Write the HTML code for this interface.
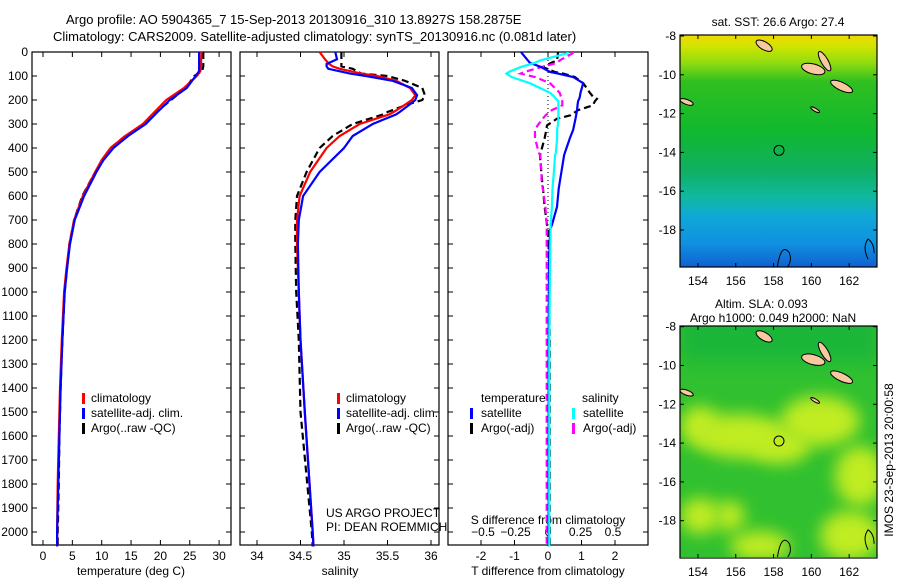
<!DOCTYPE html>
<html><head><meta charset="utf-8"><style>
body{margin:0;background:#fff;}
svg{display:block;font-family:"Liberation Sans",sans-serif;}
text{font-size:12px;fill:#000;}
</style></head><body>
<svg id="chart" width="900" height="580" viewBox="0 0 900 580">
<defs>
<linearGradient id="sstg" x1="0" y1="0" x2="0" y2="1">
<stop offset="0" stop-color="#f0d800"/><stop offset="0.05" stop-color="#d0e400"/><stop offset="0.12" stop-color="#90dc10"/>
<stop offset="0.2" stop-color="#30c020"/><stop offset="0.42" stop-color="#10b830"/><stop offset="0.58" stop-color="#10b060"/>
<stop offset="0.7" stop-color="#10b8a0"/><stop offset="0.78" stop-color="#10a8d8"/><stop offset="0.9" stop-color="#1090e0"/><stop offset="1" stop-color="#1060d0"/>
</linearGradient>
<filter id="blur" x="-100%" y="-100%" width="300%" height="300%"><feGaussianBlur stdDeviation="8"/></filter>
<clipPath id="m1c"><rect x="680" y="35" width="197" height="232"/></clipPath>
<clipPath id="m2c"><rect x="680" y="326" width="197" height="231"/></clipPath>
</defs>
<g>
<text x="66" y="24" style="font-size:13px">Argo profile: AO 5904365_7 15-Sep-2013 20130916_310 13.8927S 158.2875E</text>
<text x="53" y="41" style="font-size:13px">Climatology: CARS2009. Satellite-adjusted climatology: synTS_20130916.nc (0.081d later)</text>
</g>
<g id="p1"></g>
<g id="p2"></g>
<g id="p3"></g>
<g id="maps"></g>
<text transform="translate(893,460) rotate(-90)" text-anchor="middle">IMOS 23-Sep-2013 20:00:58</text>
</svg>
<script>
const NS='http://www.w3.org/2000/svg';
// ---- data ----
const depths=[0,60,80,100,150,200,250,300,350,400,450,500,600,700,800,900,1000,1200,1400,1600,1800,2000,2060];
const tempClim=[27.0,26.9,26.8,26.2,24,21,19,17,14,11.5,10,8.9,6.8,5.3,4.5,4.0,3.6,3.2,2.9,2.7,2.5,2.4,2.4];
const tempSat=[26.6,26.6,26.6,26.0,24.5,21.6,19.5,17.5,14.5,12,10.3,9.1,7.0,5.4,4.6,4.1,3.7,3.3,3.0,2.8,2.6,2.4,2.4];
const tempArgo=[27.3,27.3,27.1,25.8,24.3,21.8,19.3,17.2,14.0,11.5,10.1,8.9,6.7,5.3,4.5,4.1,3.7,3.3,3.0,2.8,2.7,2.5,2.5];
const salDepths=[0,30,50,60,70,90,100,120,150,180,200,220,250,260,300,350,400,500,600,700,800,1000,1200,1500,2000,2060];
const salClim=[34.72,34.78,34.83,34.87,34.95,35.2,35.38,35.6,35.76,35.82,35.78,35.7,35.57,35.52,35.18,34.95,34.8,34.61,34.49,34.46,34.46,34.48,34.5,34.55,34.64,34.65];
const salSat=[34.9,34.92,34.8,34.8,34.82,35.07,35.25,35.56,35.78,35.84,35.82,35.75,35.64,35.6,35.33,35.1,35.0,34.72,34.53,34.48,34.47,34.48,34.5,34.55,34.64,34.65];
const salArgo=[34.97,34.97,34.97,34.97,35.1,35.2,35.5,35.7,35.9,35.93,35.9,35.72,35.5,35.45,35.1,34.87,34.72,34.57,34.46,34.44,34.44,34.45,34.48,34.5,34.63,34.64];
const diffDepths=[0,5,35,45,63,83,90,104,130,170,187,195,205,222,242,264,278,306,325,360,421,430,500,533,570,645,720,740,900,1200,1600,2060];
const dTSat=[-0.8,-0.78,-0.6,-0.54,-0.2,0.06,0.3,0.75,1.05,0.97,0.95,0.93,0.9,0.88,0.87,0.84,0.82,0.78,0.75,0.65,0.5,0.48,0.4,0.36,0.32,0.27,0.12,0.06,0.03,0.02,0.02,0.02];
const dSSat=[0.15,0.15,-0.06,-0.1,-0.21,-0.3,-0.32,-0.28,-0.14,0.015,0.05,0.06,0.08,0.08,0.08,0.08,0.08,0.075,0.07,0.07,0.06,0.055,0.045,0.04,0.035,0.03,0.02,0.02,0.015,0.01,0.01,0.01];
const dTArgo=[0.3,0.3,0.27,0.1,-0.15,0.2,0.45,0.8,1.05,1.25,1.35,1.46,1.4,1.34,0.9,0.66,0.27,-0.03,-0.05,-0.1,-0.22,-0.24,-0.2,-0.18,-0.15,-0.1,-0.03,0.0,0.03,0.05,0.05,0.05];
const dSArgo=[0.19,0.19,0.09,0.07,-0.05,-0.18,-0.21,-0.1,0.015,0.09,0.1,0.1,0.11,0.11,0.03,-0.02,-0.04,-0.08,-0.1,-0.1,-0.07,-0.06,-0.05,-0.05,-0.04,-0.02,-0.01,-0.01,-0.01,-0.01,-0.01,-0.01];
const depthTicks=[0,100,200,300,400,500,600,700,800,900,1000,1100,1200,1300,1400,1500,1600,1700,1800,1900,2000];
const tempTicks=[0,5,10,15,20,25,30];
const salTicks=[34,34.5,35,35.5,36];
const tdTicks=[-2,-1,0,1,2];
const sdTicks=[-0.5,-0.25,0,0.25,0.5];
const lonTicks=[154,156,158,160,162];
const latTicks=[-8,-10,-12,-14,-16,-18];
const argoLon=158.2875, argoLat=-13.8927;
// ---- helpers ----
function mk(tag,attrs,parent){const e=document.createElementNS(NS,tag);for(const k in attrs)e.setAttribute(k,attrs[k]);parent.appendChild(e);return e;}
function txt(s,x,y,anchor,parent){const t=mk('text',{x:x,y:y,'text-anchor':anchor||'start'},parent);t.textContent=s;return t;}
const yD=d=>52+d*0.24;
const TOP=52,BOT=545;
function frame(g,x0,x1){mk('rect',{x:x0,y:TOP,width:x1-x0,height:BOT-TOP,fill:'none',stroke:'#000','stroke-width':1.2},g);}
function line(g,xs,ds,xf,color,dash,w,name){
  const p=mk('polyline',{points:xs.map((v,i)=>xf(v).toFixed(1)+','+yD(ds[i]).toFixed(1)).join(' '),fill:'none',stroke:color,'stroke-width':w||2.2},g);
  if(dash)p.setAttribute('stroke-dasharray',dash);
  
  
}
function xticks(g,ticks,xf,y,labels,fmt){ticks.forEach(t=>{const x=xf(t);mk('line',{x1:x,y1:BOT,x2:x,y2:BOT-5,stroke:'#000'},g);mk('line',{x1:x,y1:TOP,x2:x,y2:TOP+5,stroke:'#000'},g);if(labels)txt(fmt?fmt(t):String(t),x,y,'middle',g);});}
// ---- panel 1 ----
const p1=document.getElementById('p1');
const xT=v=>43+v*5.87;
frame(p1,32,231);
depthTicks.forEach(d=>{mk('line',{x1:32,y1:yD(d),x2:37,y2:yD(d),stroke:'#000'},p1);mk('line',{x1:226,y1:yD(d),x2:231,y2:yD(d),stroke:'#000'},p1);txt(String(d),28,yD(d)+4,'end',p1);});
xticks(p1,tempTicks,xT,560,true);
txt('temperature (deg C)',131,575,'middle',p1);
line(p1,tempArgo,depths,xT,'#000','7 4',2.2,'temp-argo-line');
line(p1,tempClim,depths,xT,'#f00',null,2.2,'temp-climatology-line');
line(p1,tempSat,depths,xT,'#00f',null,2.2,'temp-satellite-line');
function legend(g,x,y){[['#f00','climatology'],['#00f','satellite-adj. clim.'],['#000','Argo(..raw -QC)']].forEach((e,i)=>{mk('rect',{x:x,y:y+i*15-9,width:3,height:11,fill:e[0]},g);txt(e[1],x+9,y+i*15,'start',g);});}
legend(p1,82,402);
// ---- panel 2 ----
const p2=document.getElementById('p2');
const xS=v=>257+(v-34)*87;
frame(p2,240,439);
depthTicks.forEach(d=>{mk('line',{x1:240,y1:yD(d),x2:245,y2:yD(d),stroke:'#000'},p2);mk('line',{x1:434,y1:yD(d),x2:439,y2:yD(d),stroke:'#000'},p2);});
xticks(p2,salTicks,xS,560,true);
txt('salinity',340,575,'middle',p2);
line(p2,salArgo,salDepths,xS,'#000','7 4',2.2,'sal-argo-line');
line(p2,salClim,salDepths,xS,'#f00',null,2.2,'sal-climatology-line');
line(p2,salSat,salDepths,xS,'#00f',null,2.2,'sal-satellite-line');
legend(p2,337,402);
txt('US ARGO PROJECT',326,517,'start',p2);txt('PI: DEAN ROEMMICH',326,531,'start',p2);
// ---- panel 3 ----
const p3=document.getElementById('p3');
const xTD=v=>548+v*33.5, xSD=v=>548+v*130;
frame(p3,448,648);
depthTicks.forEach(d=>{mk('line',{x1:448,y1:yD(d),x2:453,y2:yD(d),stroke:'#000'},p3);mk('line',{x1:643,y1:yD(d),x2:648,y2:yD(d),stroke:'#000'},p3);});
xticks(p3,tdTicks,xTD,560,true);
sdTicks.forEach(t=>txt(String(t).replace('-','−'),xSD(t),536,'middle',p3));
txt('S difference from climatology',548,524,'middle',p3);
txt('T difference from climatology',548,575,'middle',p3);
mk('line',{x1:548,y1:TOP,x2:548,y2:BOT,stroke:'#000','stroke-dasharray':'1 3'},p3);
line(p3,dTArgo,diffDepths,xTD,'#000','7 4',2.2,'tdiff-argo-line');
line(p3,dSArgo,diffDepths,xSD,'#f0f','7 4',2.2,'sdiff-argo-line');
line(p3,dTSat,diffDepths,xTD,'#00f',null,2.2,'tdiff-satellite-line');
line(p3,dSSat,diffDepths,xSD,'#0ff',null,2.2,'sdiff-satellite-line');
txt('temperature',481,402,'start',p3);txt('salinity',582,402,'start',p3);
[['#00f','satellite',470],['#000','Argo(-adj)',470],['#0ff','satellite',572],['#f0f','Argo(-adj)',572]].forEach((e,i)=>{const y=417+(i%2)*15;mk('rect',{x:e[2],y:y-9,width:3,height:11,fill:e[0]},p3);txt(e[1],e[2]+11,y,'start',p3);});
// ---- maps ----
const mg=document.getElementById('maps');
const mx=lon=>680+(lon-153.05)*18.9;
function map(y0,y8,clipId,title1,title2,isSST){
  const g=mk('g',{'clip-path':'url(#'+clipId+')'},mg);
  const my=lat=>y8+(-8-lat)*19.4;
  if(isSST){mk('rect',{x:680,y:y0,width:197,height:232,fill:'url(#sstg)'},g);}
  else{
    mk('rect',{x:680,y:y0,width:197,height:232,fill:'#30c030'},g);
    [[740,y0+110,45,22],[700,y0+100,20,20],[780,y0+120,30,18],[820,y0+95,40,25],[860,y0+150,25,30],[850,y0+210,30,25],[700,y0+190,20,18],[760,y0+220,30,15],[730,y0+190,15,15]].forEach(b=>mk('ellipse',{cx:b[0],cy:b[1],rx:b[2],ry:b[3],fill:'#c0ec20',filter:'url(#blur)'},g));
    mk('rect',{x:680,y:y0-10,width:197,height:45,fill:'#10b040',opacity:0.6,filter:'url(#blur)'},g);
  }
  [[-8.5,157.5,9,4,30],[-9.7,160.1,12,5,15],[-9.3,160.7,11,3.5,60],[-10.6,161.6,12,4,25],[-11.4,153.4,7,2.5,20],[-11.8,160.2,5,1.5,30]].forEach(l=>mk('ellipse',{cx:mx(l[1]),cy:my(l[0]),rx:l[2],ry:l[3],transform:'rotate('+l[4]+' '+mx(l[1])+' '+my(l[0])+')',fill:'#f8c8a0',stroke:'#000','stroke-width':1},g));
  mk('path',{d:'M'+mx(158.2)+' '+my(-19.9)+' q4 -25 12 -14 q3 8 -2 14 M'+mx(163)+' '+my(-19.5)+' q-6 -12 0 -20 q6 4 6 14',fill:'none',stroke:'#000','stroke-width':1},g);
  const c=mk('circle',{cx:mx(argoLon),cy:my(argoLat),r:5,fill:'none',stroke:'#000','stroke-width':1},mg);
  
  
  mk('rect',{x:680,y:y0,width:197,height:232,fill:'none',stroke:'#000','stroke-width':1.2},mg);
  latTicks.forEach(t=>{const y=my(t);if(y<y0-1)return;mk('line',{x1:680,y1:y,x2:684,y2:y,stroke:'#000'},mg);mk('line',{x1:873,y1:y,x2:877,y2:y,stroke:'#000'},mg);txt(String(t),676,y+4,'end',mg);});
  lonTicks.forEach(t=>{const x=mx(t);mk('line',{x1:x,y1:y0,x2:x,y2:y0+4,stroke:'#000'},mg);mk('line',{x1:x,y1:y0+232,x2:x,y2:y0+228,stroke:'#000'},mg);txt(String(t),x,y0+250,'middle',mg);});
  if(title2){txt(title1,715,y0-18,'start',mg);txt(title2,690,y0-4,'start',mg);}else txt(title1,778,y0-9,'middle',mg);
}
map(35,36,'m1c','sat. SST: 26.6 Argo: 27.4',null,true);
map(326,326.7,'m2c','Altim. SLA: 0.093','Argo h1000: 0.049 h2000: NaN',false);
</script>
</body></html>
